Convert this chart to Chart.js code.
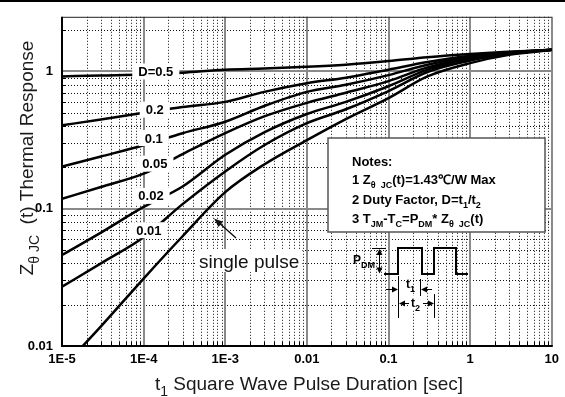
<!DOCTYPE html>
<html>
<head>
<meta charset="utf-8">
<script src="https://cdn.jsdelivr.net/npm/chart.js@4/dist/chart.umd.min.js"></script>
<style>
  html, body { margin: 0; padding: 0; background: #fff; }
  canvas { display: block; }
</style>
</head>
<body>
<canvas id="thermalChart" width="565" height="397"></canvas>
<script>
// pulse duration t1 [sec] where the curves were read
const pulseTimes = [1e-5, 3e-5, 1e-4, 3e-4, 1e-3, 3e-3, 0.01, 0.03, 0.1, 0.3, 1, 3, 10];

// normalized thermal response Zth(jc) for each duty factor
const respD50 = [0.92, 0.935, 0.95, 0.98, 1.03, 1.05, 1.08, 1.12, 1.19, 1.27, 1.34, 1.39, 1.44];
const respD20 = [0.405, 0.447, 0.50, 0.55, 0.60, 0.71, 0.82, 0.90, 1.03, 1.17, 1.30, 1.38, 1.44];
const respD10 = [0.203, 0.24, 0.29, 0.355, 0.43, 0.56, 0.71, 0.80, 0.94, 1.12, 1.28, 1.37, 1.44];
const respD05 = [0.118, 0.144, 0.18, 0.25, 0.355, 0.47, 0.59, 0.70, 0.85, 1.07, 1.26, 1.36, 1.44];
const respD02 = [0.046, 0.067, 0.103, 0.145, 0.247, 0.36, 0.49, 0.60, 0.78, 1.03, 1.23, 1.35, 1.44];
const respD01 = [0.027, 0.04, 0.062, 0.108, 0.187, 0.29, 0.42, 0.53, 0.72, 0.99, 1.20, 1.34, 1.44];
const respSingle = [0.0069, 0.0139, 0.031, 0.063, 0.132, 0.21, 0.316, 0.45, 0.64, 0.92, 1.15, 1.32, 1.43];

const seriesNames = ['D=0.5', '0.2', '0.1', '0.05', '0.02', '0.01', 'single pulse'];
const seriesValues = [respD50, respD20, respD10, respD05, respD02, respD01, respSingle];

const xTickValues = [1e-5, 1e-4, 1e-3, 0.01, 0.1, 1, 10];
const xTickLabels = ['1E-5', '1E-4', '1E-3', '0.01', '0.1', '1', '10'];
const yTickValues = [0.01, 0.1, 1];
const yTickLabels = ['0.01', '0.1', '1'];

const FONT = 'Arial, "Liberation Sans", sans-serif';

// minor grid values (2..9 per decade) inside [min, max]
function minorValues(min, max) {
    const out = [];
    for (let d = min; d < max; d *= 10) {
        for (let m = 2; m <= 9; m++) {
            const v = +(m * d).toPrecision(3);
            if (v < max) out.push(v);
        }
    }
    return out;
}

function line(ctx, x1, y1, x2, y2) {
    ctx.beginPath();
    ctx.moveTo(x1, y1);
    ctx.lineTo(x2, y2);
    ctx.stroke();
}

function arrowHead(ctx, x, y, angle, len = 7, half = 3) {
    ctx.beginPath();
    ctx.moveTo(x, y);
    ctx.lineTo(x - len * Math.cos(angle) + half * Math.sin(angle), y - len * Math.sin(angle) - half * Math.cos(angle));
    ctx.lineTo(x - len * Math.cos(angle) - half * Math.sin(angle), y - len * Math.sin(angle) + half * Math.cos(angle));
    ctx.closePath();
    ctx.fill();
}

// parts: [text, isSub]
function richText(ctx, parts, x, y, size, weight, align) {
    const fontFor = sub => `${weight} ${sub ? Math.round(size * 0.72) : size}px ${FONT}`;
    let w = 0;
    parts.forEach(([t, sub]) => { ctx.font = fontFor(sub); w += ctx.measureText(t).width; });
    let cx = align === 'center' ? x - w / 2 : x;
    parts.forEach(([t, sub]) => {
        ctx.font = fontFor(sub);
        ctx.fillText(t, cx, y + (sub ? size * 0.3 : 0));
        cx += ctx.measureText(t).width;
    });
    return w;
}

const gridPlugin = {
    id: 'zthGrid',
    beforeDatasetsDraw(chart) {
        const { ctx, chartArea: ca, scales: { x, y } } = chart;
        ctx.save();
        ctx.lineCap = 'butt';

        // dotted minor grid
        ctx.strokeStyle = '#111';
        ctx.lineWidth = 1;
        ctx.setLineDash([1, 2]);
        minorValues(1e-5, 10).forEach(v => {
            const px = Math.round(x.getPixelForValue(v)) + 0.5;
            line(ctx, px, ca.top, px, ca.bottom);
        });
        minorValues(0.01, 2.5).forEach(v => {
            const py = Math.round(y.getPixelForValue(v)) + 0.5;
            line(ctx, ca.left, py, ca.right, py);
        });
        ctx.setLineDash([]);

        // solid decade lines
        ctx.strokeStyle = '#8a8a8a';
        ctx.lineWidth = 2;
        xTickValues.slice(1).forEach(v => {
            const px = Math.round(x.getPixelForValue(v));
            line(ctx, px, ca.top, px, ca.bottom);
        });
        yTickValues.slice(1).forEach(v => {
            const py = Math.round(y.getPixelForValue(v));
            line(ctx, ca.left, py, ca.right, py);
        });

        // frame
        ctx.strokeStyle = '#222';
        ctx.lineWidth = 1;
        line(ctx, ca.left, ca.top + 0.5, ca.right, ca.top + 0.5);
        ctx.strokeStyle = '#000';
        ctx.lineWidth = 2;
        line(ctx, ca.left, ca.top, ca.left, ca.bottom + 1);
        line(ctx, ca.left - 1, ca.bottom, ca.right + 1, ca.bottom);

        // inside tick marks
        ctx.lineWidth = 1;
        minorValues(1e-5, 10).forEach(v => {
            const px = Math.round(x.getPixelForValue(v)) + 0.5;
            line(ctx, px, ca.bottom, px, ca.bottom - 4);
        });
        minorValues(0.01, 2.5).forEach(v => {
            const py = Math.round(y.getPixelForValue(v)) + 0.5;
            line(ctx, ca.left, py, ca.left + 4, py);
        });
        ctx.restore();
    }
};

const notesPlugin = {
    id: 'zthNotes',
    afterDatasetsDraw(chart) {
        const { ctx, scales: { x, y } } = chart;
        ctx.save();
        ctx.fillStyle = '#000';
        ctx.textBaseline = 'middle';
        ctx.textAlign = 'center';

        // duty factor labels sitting on the curves
        const spots = [[1.41e-4, 1.0], [1.37e-4, 0.527], [1.33e-4, 0.327], [1.37e-4, 0.213], [1.23e-4, 0.124], [1.16e-4, 0.0697]];
        ctx.font = `bold 13px ${FONT}`;
        spots.forEach(([t, z], i) => {
            const px = x.getPixelForValue(t), py = y.getPixelForValue(z);
            const w = ctx.measureText(seriesNames[i]).width + 12;
            ctx.fillStyle = '#fff';
            ctx.fillRect(px - w / 2, py - 8, w, 16);
            ctx.fillStyle = '#000';
            ctx.fillText(seriesNames[i], px, py + 1);
        });

        // single pulse label and its arrow
        ctx.textAlign = 'left';
        ctx.textBaseline = 'alphabetic';
        ctx.font = `19px ${FONT}`;
        const sw = ctx.measureText('single pulse').width;
        ctx.fillStyle = '#fff';
        ctx.fillRect(196, 249, sw + 6, 23);
        ctx.fillStyle = '#111';
        ctx.fillText('single pulse', 199, 268);
        ctx.strokeStyle = '#000';
        ctx.lineWidth = 1.2;
        line(ctx, 236, 238, 217, 221);
        arrowHead(ctx, 214, 218.5, Math.atan2(-19, -22), 9, 3.5);

        // notes box
        ctx.fillStyle = '#fff';
        ctx.fillRect(328, 138, 217, 94);
        ctx.strokeStyle = '#555';
        ctx.lineWidth = 1.5;
        ctx.strokeRect(328, 138, 217, 94);
        ctx.fillStyle = '#000';
        richText(ctx, [['Notes:', 0]], 352, 166, 13, 'bold');
        richText(ctx, [['1 Z', 0], ['\u03b8', 1], ['  JC', 1], ['(t)=1.43\u2103/W Max', 0]], 352, 184, 13, 'bold');
        richText(ctx, [['2 Duty Factor, D=t', 0], ['1', 1], ['/t', 0], ['2', 1]], 352, 204, 13, 'bold');
        richText(ctx, [['3 T', 0], ['JM', 1], ['-T', 0], ['C', 1], ['=P', 0], ['DM', 1], ['* Z', 0], ['\u03b8', 1], ['  JC', 1], ['(t)', 0]], 352, 223, 13, 'bold');

        // pulse train sketch
        ctx.strokeStyle = '#000';
        ctx.lineWidth = 2;
        ctx.beginPath();
        [[384, 274], [398, 274], [398, 248], [422, 248], [422, 274], [434, 274], [434, 248], [456, 248], [456, 274], [468, 274]]
            .forEach(([px, py], i) => i ? ctx.lineTo(px, py) : ctx.moveTo(px, py));
        ctx.stroke();

        ctx.lineWidth = 1;
        line(ctx, 372, 248.5, 386, 248.5);
        line(ctx, 379.5, 251, 379.5, 271);
        arrowHead(ctx, 379.5, 249, -Math.PI / 2, 6, 3);
        arrowHead(ctx, 379.5, 273.5, Math.PI / 2, 6, 3);
        richText(ctx, [['P', 0], ['DM', 1]], 353, 264, 12, 'bold');

        line(ctx, 398.5, 276, 398.5, 318);
        line(ctx, 420.5, 279, 420.5, 298);
        line(ctx, 434.5, 294, 434.5, 318);
        line(ctx, 386, 289.5, 395, 289.5);
        arrowHead(ctx, 398, 289.5, 0, 6, 3);
        line(ctx, 432, 289.5, 424, 289.5);
        arrowHead(ctx, 421, 289.5, Math.PI, 6, 3);
        richText(ctx, [['t', 0], ['1', 1]], 406, 288, 12, 'bold');

        line(ctx, 402, 303.5, 431, 303.5);
        arrowHead(ctx, 399, 303.5, Math.PI, 6, 3);
        arrowHead(ctx, 434, 303.5, 0, 6, 3);
        ctx.fillStyle = '#fff';
        ctx.fillRect(409, 296, 14, 14);
        ctx.fillStyle = '#000';
        richText(ctx, [['t', 0], ['2', 1]], 411, 307, 12, 'bold');

        // axis titles
        ctx.fillStyle = '#1a1a1a';
        richText(ctx, [['t', 0], ['1', 1], [' Square Wave Pulse Duration [sec]', 0]], 309, 390, 19, 'normal', 'center');
        ctx.translate(33, 158);
        ctx.rotate(-Math.PI / 2);
        richText(ctx, [['Z', 0], ['\u03b8 JC', 1], ['  (t) Thermal Response', 0]], 0, 0, 19, 'normal', 'center');
        ctx.restore();

        // top edge of the scanned sheet
        ctx.fillStyle = '#000';
        ctx.fillRect(0, 0, chart.width, 2);
    }
};

const datasets = seriesValues.map((vals, i) => ({
    label: seriesNames[i],
    data: pulseTimes.map((t, j) => ({ x: t, y: vals[j] })),
    borderColor: '#000',
    borderWidth: 2.5,
    pointRadius: 0,
    cubicInterpolationMode: 'monotone',
    fill: false
}));

const tickFont = { family: FONT, size: 13, weight: 'bold' };

new Chart(document.getElementById('thermalChart'), {
    type: 'line',
    data: { datasets },
    options: {
        responsive: false,
        animation: false,
        devicePixelRatio: 1,
        layout: { padding: { top: 8, right: 6, left: 0, bottom: 0 } },
        plugins: { legend: { display: false }, tooltip: { enabled: false } },
        scales: {
            x: {
                type: 'logarithmic',
                min: 1e-5,
                max: 10,
                grid: { display: false, drawTicks: false },
                border: { display: false },
                afterBuildTicks: s => { s.ticks = xTickValues.map(v => ({ value: v })); },
                afterFit: s => { s.height = 51; },
                ticks: {
                    autoSkip: false,
                    maxRotation: 0,
                    padding: 6,
                    color: '#000',
                    font: tickFont,
                    callback: (v, i) => xTickLabels[i]
                }
            },
            y: {
                type: 'logarithmic',
                min: 0.01,
                max: 2.5,
                grid: { display: false, drawTicks: false },
                border: { display: false },
                afterBuildTicks: s => { s.ticks = yTickValues.map(v => ({ value: v })); },
                afterFit: s => { s.width = 62; },
                ticks: {
                    autoSkip: false,
                    padding: 9,
                    color: '#000',
                    font: tickFont,
                    callback: (v, i) => yTickLabels[i]
                }
            }
        }
    },
    plugins: [gridPlugin, notesPlugin]
});
</script>
</body>
</html>
